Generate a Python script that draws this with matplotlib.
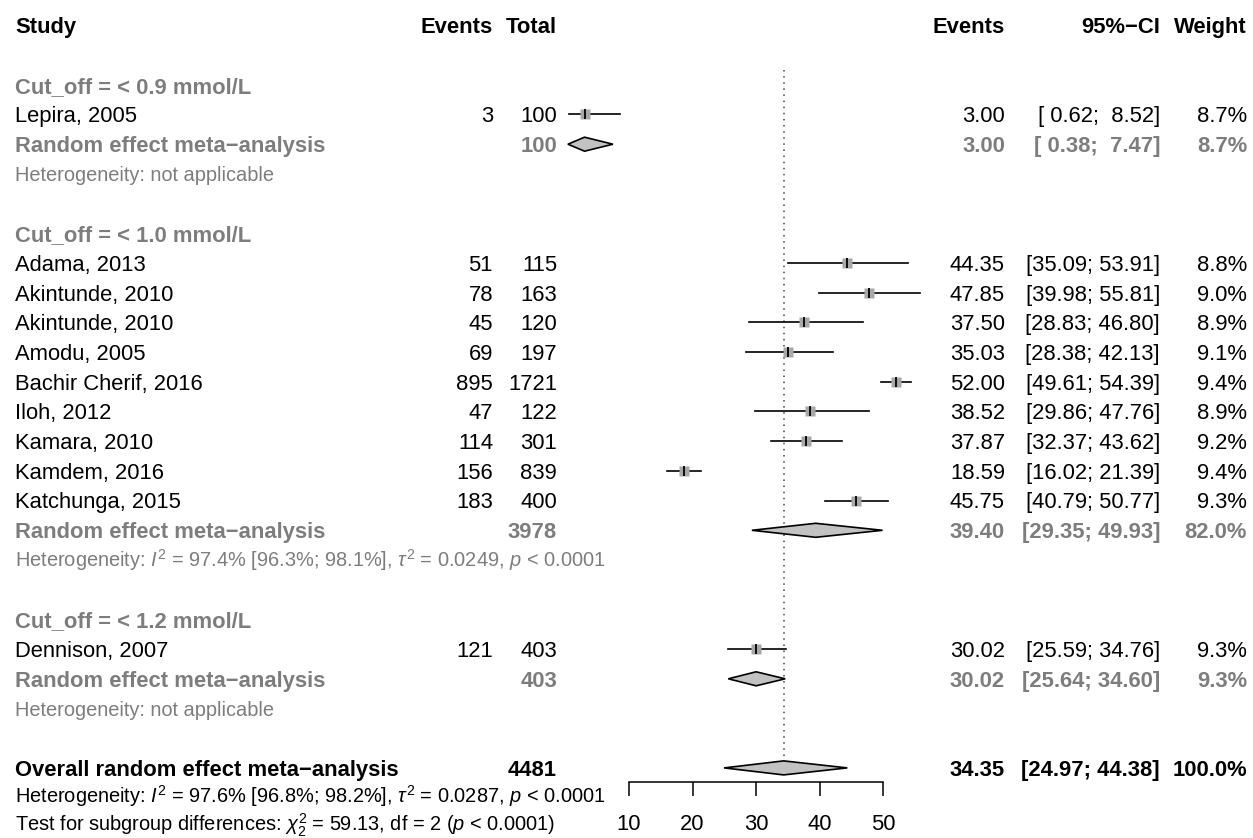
import matplotlib

matplotlib.use("Agg")
import matplotlib.pyplot as plt
from matplotlib.patches import Polygon


STUDIES = [
    "Lepira, 2005",
    "Adama, 2013",
    "Akintunde, 2010",
    "Akintunde, 2010",
    "Amodu, 2005",
    "Bachir Cherif, 2016",
    "Iloh, 2012",
    "Kamara, 2010",
    "Kamdem, 2016",
    "Katchunga, 2015",
    "Dennison, 2007",
]
STUDY_GROUP = [0, 1, 1, 1, 1, 1, 1, 1, 1, 1, 2]
EVENTS = [3, 51, 78, 45, 69, 895, 47, 114, 156, 183, 121]
TOTALS = [100, 115, 163, 120, 197, 1721, 122, 301, 839, 400, 403]
EST = [3.00, 44.35, 47.85, 37.50, 35.03, 52.00, 38.52, 37.87, 18.59, 45.75, 30.02]
LOWER = [0.62, 35.09, 39.98, 28.83, 28.38, 49.61, 29.86, 32.37, 16.02, 40.79, 25.59]
UPPER = [8.52, 53.91, 55.81, 46.80, 42.13, 54.39, 47.76, 43.62, 21.39, 50.77, 34.76]
WEIGHTS = [8.7, 8.8, 9.0, 8.9, 9.1, 9.4, 8.9, 9.2, 9.4, 9.3, 9.3]

GROUP_LABELS = ["Cut_off = < 0.9 mmol/L", "Cut_off = < 1.0 mmol/L", "Cut_off = < 1.2 mmol/L"]
GROUP_TOTALS = [100, 3978, 403]
GROUP_EST = [3.00, 39.40, 30.02]
GROUP_LOWER = [0.38, 29.35, 25.64]
GROUP_UPPER = [7.47, 49.93, 34.60]
GROUP_WEIGHTS = [8.7, 82.0, 9.3]
GROUP_HET = [
    "Heterogeneity: not applicable",
    r"Heterogeneity: $I^2$ = 97.4% [96.3%; 98.1%], $\tau^2$ = 0.0249, $p$ < 0.0001",
    "Heterogeneity: not applicable",
]

OVERALL_TOTAL = 4481
OVERALL_EST = 34.35
OVERALL_LOWER = 24.97
OVERALL_UPPER = 44.38
OVERALL_WEIGHT = 100.0
OVERALL_HET = r"Heterogeneity: $I^2$ = 97.6% [96.8%; 98.2%], $\tau^2$ = 0.0287, $p$ < 0.0001"
SUBGROUP_TEST = r"Test for subgroup differences: $\chi^2_2$ = 59.13, df = 2 ($p$ < 0.0001)"

X_TICKS = [10, 20, 30, 40, 50]

# layout (pixels of the 1253x838 canvas)
W, H = 1253, 838
ROW0, ROW_STEP = 25.4, 29.7
PX_AT_10, PX_PER_UNIT = 629, 6.35
FS = 15.8
FS_SMALL = 14.4
GREY = "#7d7d7d"


def cifmt(lo, hi):
    return "[{:>5}; {:>5}]".format(f"{lo:.2f}", f"{hi:.2f}")


def main():
    plt.rcParams["font.family"] = ["Liberation Sans", "DejaVu Sans"]
    plt.rcParams["mathtext.fontset"] = "custom"
    plt.rcParams["mathtext.rm"] = "Liberation Sans"
    plt.rcParams["mathtext.it"] = "Liberation Sans:italic"

    fig = plt.figure(figsize=(W / 100, H / 100), dpi=100)
    ax = fig.add_axes([0, 0, 1, 1])
    ax.set_xlim(10 - PX_AT_10 / PX_PER_UNIT, 10 + (W - PX_AT_10) / PX_PER_UNIT)
    ax.set_ylim(1 + (H - ROW0) / ROW_STEP, 1 - ROW0 / ROW_STEP)
    ax.set_facecolor("white")
    tr = ax.get_yaxis_transform()

    def put(xpx, row, s, ha="left", size=FS, color="black", bold=False):
        off = 0.716 * size * 100 / 72 / 2 / ROW_STEP
        ax.text(xpx / W, row + off, s, transform=tr, ha=ha, va="baseline",
                fontsize=size, color=color, fontweight="bold" if bold else "normal")

    def diamond(row, est, lo, hi):
        h = 0.236
        ax.add_patch(Polygon([(lo, row), (est, row - h), (hi, row), (est, row + h)],
                             closed=True, facecolor="#c2c2c2", edgecolor="black",
                             linewidth=1.2, zorder=3))

    def right_cols(row, est, lo, hi, w, color, bold):
        put(1005, row, f"{est:.2f}", ha="right", color=color, bold=bold)
        put(1160, row, cifmt(lo, hi), ha="right", color=color, bold=bold)
        put(1247, row, f"{w:.1f}%", ha="right", color=color, bold=bold)

    # header
    put(15, 1, "Study", bold=True)
    put(493, 1, "Events", ha="right", bold=True)
    put(557, 1, "Total", ha="right", bold=True)
    put(1005, 1, "Events", ha="right", bold=True)
    put(1160, 1, "95%\u2212CI", ha="right", bold=True)
    put(1247, 1, "Weight", ha="right", bold=True)

    row = 3
    for g, label in enumerate(GROUP_LABELS):
        put(15, row, label, color=GREY, bold=True)
        for i, name in enumerate(STUDIES):
            if STUDY_GROUP[i] != g:
                continue
            row += 1
            put(15, row, name)
            put(493, row, str(EVENTS[i]), ha="right")
            put(557, row, str(TOTALS[i]), ha="right")
            ax.plot([LOWER[i], UPPER[i]], [row, row], color="black", lw=1.2, zorder=2)
            ax.plot(EST[i], row, marker="s", ms=2.2 * WEIGHTS[i] ** 0.5,
                    color="#a8a8a8", mec="none", zorder=3)
            ax.plot(EST[i], row, marker="|", ms=7, mew=1.3, color="black", zorder=4)
            right_cols(row, EST[i], LOWER[i], UPPER[i], WEIGHTS[i], "black", False)
        row += 1
        put(15, row, "Random effect meta\u2212analysis", color=GREY, bold=True)
        put(557, row, str(GROUP_TOTALS[g]), ha="right", color=GREY, bold=True)
        diamond(row, GROUP_EST[g], GROUP_LOWER[g], GROUP_UPPER[g])
        right_cols(row, GROUP_EST[g], GROUP_LOWER[g], GROUP_UPPER[g], GROUP_WEIGHTS[g], GREY, True)
        row += 1
        put(15, row, GROUP_HET[g], size=FS_SMALL, color=GREY)
        row += 2

    put(15, row, "Overall random effect meta\u2212analysis", bold=True)
    put(557, row, str(OVERALL_TOTAL), ha="right", bold=True)
    diamond(row, OVERALL_EST, OVERALL_LOWER, OVERALL_UPPER)
    right_cols(row, OVERALL_EST, OVERALL_LOWER, OVERALL_UPPER, OVERALL_WEIGHT, "black", True)
    ax.vlines(OVERALL_EST, 2.5, row - 0.236, colors="#444444", linestyles=(0, (1, 3)),
              linewidth=1.1, zorder=1)
    put(15, row + 0.95, OVERALL_HET, size=FS_SMALL)
    put(15, row + 1.88, SUBGROUP_TEST, size=FS_SMALL)

    # x axis
    for side in ["top", "left", "right"]:
        ax.spines[side].set_visible(False)
    ax.spines["bottom"].set_position(("data", row + 0.47))
    ax.spines["bottom"].set_bounds(X_TICKS[0], X_TICKS[-1])
    ax.spines["bottom"].set_linewidth(1.1)
    ax.set_xticks(X_TICKS)
    ax.set_xticklabels([str(t) for t in X_TICKS])
    ax.set_yticks([])
    ax.tick_params(axis="x", direction="out", length=10, width=1.1, labelsize=FS, pad=13)

    fig.savefig("out.png", dpi=100, facecolor="white")
    plt.close(fig)


if __name__ == "__main__":
    main()
